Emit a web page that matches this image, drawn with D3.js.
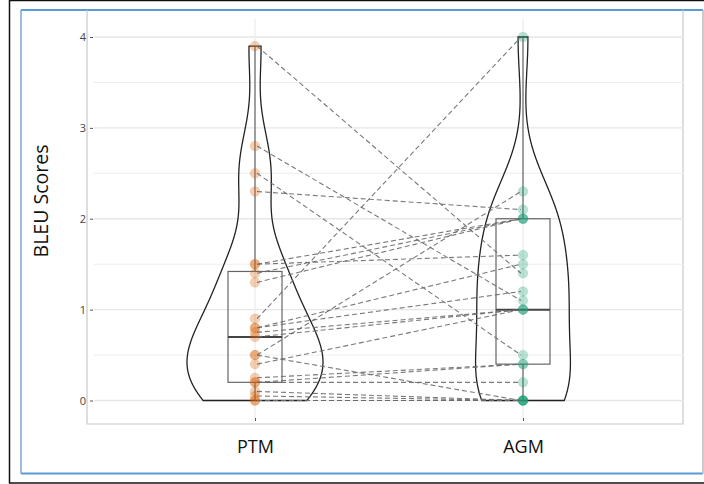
<!DOCTYPE html>
<html>
<head>
<meta charset="utf-8">
<script src="https://cdn.jsdelivr.net/npm/d3@7"></script>
<style>
  html, body { margin: 0; padding: 0; background: #fff; }
  svg { display: block; }
</style>
</head>
<body>
<svg id="chart" width="704" height="484"></svg>
<script>
// ---- data ----
const categories = ["PTM", "AGM"];
// paired scores, participant i has ptmScores[i] and agmScores[i]
const ptmScores = [3.9, 2.8, 2.5, 2.3, 0.9, 0.5, 1.5, 1.5, 1.4, 1.3, 0.8, 0.8, 0.75, 0.7, 0.4, 0.25, 0.2, 0.2, 0.1, 0.05, 0.5, 0, 0];
const agmScores = [1.4, 1.1, 0.5, 2.1, 4.0, 2.3, 1.6, 2.0, 2.0, 2.0, 1.5, 1.2, 1.0, 1.0, 1.0, 0.4, 0.4, 0.2, 0, 0, 0, 0, 0];
// box plot statistics as drawn
const boxQ1 = [0.2, 0.4];
const boxMedian = [0.7, 1.0];
const boxQ3 = [1.42, 2.0];
const whiskerLow = [0, 0];
const whiskerHigh = [3.9, 4.0];
const yTicks = [0, 1, 2, 3, 4];
const yMinorTicks = [0.5, 1.5, 2.5, 3.5];
const yLabel = "BLEU Scores";

const groupColors = ["#D95F02", "#1B9E77"];
const bandwidthAdjust = [0.92, 1.0];

// ---- drawing ----
const svg = d3.select("#chart");
const font = "'Open Sans', 'DejaVu Sans', sans-serif";

// outer frames
svg.append("rect").attr("x", 9.5).attr("y", 0.5).attr("width", 700).attr("height", 482.5)
  .attr("fill", "none").attr("stroke", "#111").attr("stroke-width", 1.5);
svg.append("rect").attr("x", 21).attr("y", 10).attr("width", 682).attr("height", 463.5)
  .attr("fill", "#fff").attr("stroke", "none");
svg.append("line").attr("x1", 21).attr("x2", 703).attr("y1", 10).attr("y2", 10)
  .attr("stroke", "#5b9bd5").attr("stroke-width", 2);
svg.append("line").attr("x1", 21).attr("x2", 703).attr("y1", 473.5).attr("y2", 473.5)
  .attr("stroke", "#5b9bd5").attr("stroke-width", 2);
svg.append("line").attr("x1", 21).attr("x2", 21).attr("y1", 10).attr("y2", 473.5)
  .attr("stroke", "#7aa6d6").attr("stroke-width", 1.5);
svg.append("line").attr("x1", 703).attr("x2", 703).attr("y1", 10).attr("y2", 473.5)
  .attr("stroke", "#bbb").attr("stroke-width", 1.5);

const panel = { left: 94, right: 684, top: 19, bottom: 418 };

const y = d3.scaleLinear().domain([0, 4]).range([400.5, 37]);
const x = d3.scalePoint().domain(categories).range([255, 523]);

// image border of the plot panel
svg.append("path")
  .attr("d", `M87,10 V424 H683 V10`)
  .attr("fill", "none").attr("stroke", "#c8c8c8").attr("stroke-width", 1.2);

// grid
const grid = svg.append("g");
grid.selectAll(".minor").data(yMinorTicks).join("line")
  .attr("x1", panel.left).attr("x2", panel.right)
  .attr("y1", d => y(d)).attr("y2", d => y(d))
  .attr("stroke", "#ededed").attr("stroke-width", 1);
grid.selectAll(".major").data(yTicks).join("line")
  .attr("x1", panel.left).attr("x2", panel.right)
  .attr("y1", d => y(d)).attr("y2", d => y(d))
  .attr("stroke", "#e6e6e6").attr("stroke-width", 1.3);
grid.selectAll(".vmajor").data(categories).join("line")
  .attr("x1", d => x(d)).attr("x2", d => x(d))
  .attr("y1", panel.top).attr("y2", panel.bottom)
  .attr("stroke", "#ececec").attr("stroke-width", 1.3);

// y axis
const yAxis = d3.axisLeft(y).tickValues(yTicks).tickSize(3).tickPadding(4).tickFormat(d3.format("d"));
const gy = svg.append("g").attr("transform", `translate(${panel.left - 1},0)`).call(yAxis);
gy.select(".domain").remove();
gy.selectAll(".tick line").attr("stroke", "#555");
gy.selectAll(".tick text").attr("font-family", font).attr("font-size", 11).attr("fill", "#444");

// x axis
const xAxis = d3.axisBottom(x).tickSize(3).tickPadding(19);
const gx = svg.append("g").attr("transform", `translate(0,${panel.bottom})`).call(xAxis);
gx.select(".domain").remove();
gx.selectAll(".tick line").attr("stroke", "#555");
gx.selectAll(".tick text").attr("font-family", font).attr("font-size", 18).attr("fill", "#111");

// y label
svg.append("text")
  .attr("transform", `translate(48,201) rotate(-90)`)
  .attr("text-anchor", "middle")
  .attr("font-family", font).attr("font-size", 19.5).attr("fill", "#111")
  .text(yLabel);

// ---- violins via gaussian KDE (R nrd0 bandwidth, trimmed) ----
const groups = [ptmScores, agmScores];
function nrd0(v) {
  const s = v.slice().sort(d3.ascending);
  const sd = d3.deviation(s);
  const iqr = d3.quantile(s, 0.75) - d3.quantile(s, 0.25);
  let lo = Math.min(sd, iqr / 1.34);
  if (!(lo > 0)) lo = sd || Math.abs(s[0]) || 1;
  return 0.9 * lo * Math.pow(s.length, -0.2);
}
function kde(v, adj) {
  const bw = nrd0(v) * adj;
  const mn = d3.min(v), mx = d3.max(v);
  const n = 512;
  const out = [];
  for (let i = 0; i < n; i++) {
    const t = mn + (mx - mn) * i / (n - 1);
    let s = 0;
    for (const xi of v) {
      const z = (t - xi) / bw;
      s += Math.exp(-0.5 * z * z);
    }
    out.push({ v: t, d: s / (v.length * bw * Math.sqrt(2 * Math.PI)) });
  }
  return out;
}
const dens = groups.map((g, i) => kde(g, bandwidthAdjust[i]));
const maxD = d3.max(dens, a => d3.max(a, p => p.d));
const w = d3.scaleLinear().domain([0, maxD]).range([0, 68]);

const violins = svg.append("g");
dens.forEach((arr, i) => {
  const cx = x(categories[i]);
  const area = d3.area()
    .y(p => y(p.v))
    .x0(p => cx - w(p.d))
    .x1(p => cx + w(p.d));
  violins.append("path").attr("d", area(arr))
    .attr("fill", "none").attr("stroke", "#222").attr("stroke-width", 1.3);
});

// ---- boxes ----
const boxes = svg.append("g");
const bhw = 27;
categories.forEach((c, i) => {
  const cx = x(c);
  boxes.append("line").attr("x1", cx).attr("x2", cx)
    .attr("y1", y(boxQ3[i])).attr("y2", y(whiskerHigh[i]))
    .attr("stroke", "#666").attr("stroke-width", 1.2);
  boxes.append("line").attr("x1", cx).attr("x2", cx)
    .attr("y1", y(boxQ1[i])).attr("y2", y(whiskerLow[i]))
    .attr("stroke", "#666").attr("stroke-width", 1.2);
  boxes.append("rect").attr("x", cx - bhw).attr("width", 2 * bhw)
    .attr("y", y(boxQ3[i])).attr("height", y(boxQ1[i]) - y(boxQ3[i]))
    .attr("fill", "none").attr("stroke", "#666").attr("stroke-width", 1.2);
  boxes.append("line").attr("x1", cx - bhw).attr("x2", cx + bhw)
    .attr("y1", y(boxMedian[i])).attr("y2", y(boxMedian[i]))
    .attr("stroke", "#444").attr("stroke-width", 2);
});

// ---- points ----
const pts = svg.append("g");
groups.forEach((arr, i) => {
  pts.selectAll(null).data(arr).join("circle")
    .attr("cx", x(categories[i])).attr("cy", d => y(d)).attr("r", 4.8)
    .attr("fill", groupColors[i]).attr("fill-opacity", 0.3)
    .attr("stroke", groupColors[i]).attr("stroke-opacity", 0.15);
});

// ---- paired dashed lines ----
const pairs = ptmScores.map((p, i) => ({ a: p, b: agmScores[i] }));
svg.append("g").selectAll("line").data(pairs).join("line")
  .attr("x1", x(categories[0]) + 2).attr("y1", d => y(d.a))
  .attr("x2", x(categories[1]) - 2).attr("y2", d => y(d.b))
  .attr("stroke", "#6a6a6a").attr("stroke-width", 1.1)
  .attr("stroke-dasharray", "5,3").attr("stroke-opacity", 0.9);
</script>
</body>
</html>
